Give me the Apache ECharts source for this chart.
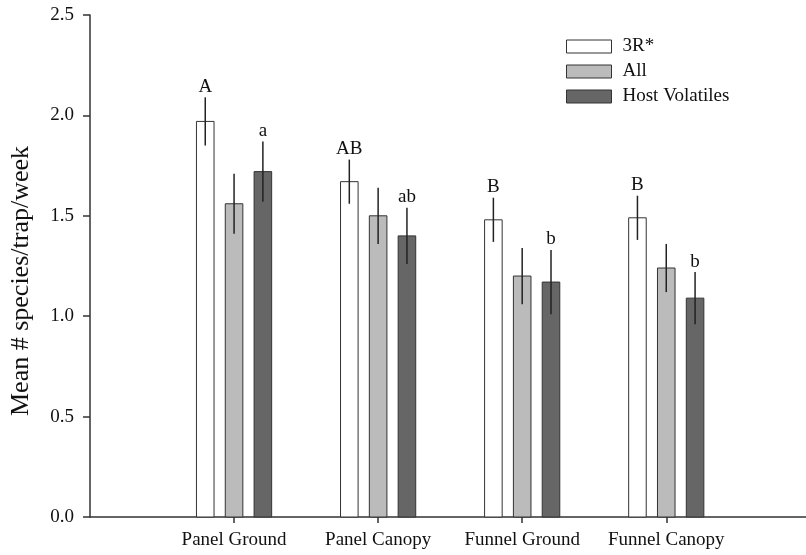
<!DOCTYPE html>
<html>
<head>
<meta charset="utf-8">
<script src="https://cdn.jsdelivr.net/npm/echarts@6/dist/echarts.min.js"></script>
<style>html,body{margin:0;padding:0;background:#fff}#c{width:806px;height:555px}</style>
</head>
<body>
<div id="c"></div>
<script>
var categories = ['Panel Ground', 'Panel Canopy', 'Funnel Ground', 'Funnel Canopy'];
var seriesNames = ['3R*', 'All', 'Host Volatiles'];
var vals3R = [1.97, 1.67, 1.48, 1.49];
var err3R = [0.12, 0.11, 0.11, 0.11];
var valsAll = [1.56, 1.50, 1.20, 1.24];
var errAll = [0.15, 0.14, 0.14, 0.12];
var valsHost = [1.72, 1.40, 1.17, 1.09];
var errHost = [0.15, 0.14, 0.16, 0.13];
var letters3R = ['A', 'AB', 'B', 'B'];
var lettersAll = ['', '', '', ''];
var lettersHost = ['a', 'ab', 'b', 'b'];
var yTicks = [0, 0.5, 1.0, 1.5, 2.0, 2.5];

var FONT = 'Liberation Serif';
var colors = ['#ffffff', '#bbbbbb', '#666666'];
var offsets = [-0.2, 0, 0.2];
var barW = 0.122;
var groups = [
  {name: seriesNames[0], v: vals3R, e: err3R, l: letters3R},
  {name: seriesNames[1], v: valsAll, e: errAll, l: lettersAll},
  {name: seriesNames[2], v: valsHost, e: errHost, l: lettersHost}
];

var series = [];
groups.forEach(function (g, gi) {
  var data = g.v.map(function (v, i) { return [i + 1 + offsets[gi], v, g.e[i]]; });
  series.push({
    type: 'custom',
    name: g.name,
    itemStyle: {color: colors[gi], borderColor: '#333', borderWidth: 1},
    data: data,
    encode: {x: 0, y: 1},
    renderItem: function (params, api) {
      var x = api.value(0), v = api.value(1), e = api.value(2);
      var lab = g.l[params.dataIndex];
      var top = api.coord([x, v]);
      var base = api.coord([x, 0]);
      var w = api.size([barW, 0])[0];
      var eTop = api.coord([x, v + e]);
      var eBot = api.coord([x, v - e]);
      var children = [
        {type: 'rect', shape: {x: top[0] - w / 2, y: top[1], width: w, height: base[1] - top[1]},
         style: {fill: colors[gi], stroke: '#333', lineWidth: 1}},
        {type: 'line', shape: {x1: top[0], y1: eTop[1], x2: top[0], y2: eBot[1]},
         style: {stroke: '#222', lineWidth: 1.5}}
      ];
      if (lab) {
        children.push({type: 'text', x: top[0], y: eTop[1] - 1,
          style: {text: lab, fill: '#111', font: '19px "' + FONT + '"', align: 'center', verticalAlign: 'bottom'}});
      }
      return {type: 'group', children: children};
    }
  });
});

var chart = echarts.init(document.getElementById('c'), null, {renderer: 'canvas'});
chart.setOption({
  animation: false,
  backgroundColor: '#fff',
  grid: {left: 90, right: 0, top: 15, bottom: 38, containLabel: false, outerBoundsMode: 'none'},
  legend: {
    orient: 'vertical', left: 566, top: 37, padding: 0, icon: 'rect',
    itemWidth: 45, itemHeight: 13, itemGap: 6,
    itemStyle: {borderColor: '#333', borderWidth: 1},
    textStyle: {fontFamily: FONT, fontSize: 19, color: '#111', padding: [0, 0, 0, 6]},
    data: seriesNames.map(function (n, i) { return {name: n, itemStyle: {color: colors[i], borderColor: '#333', borderWidth: 1}}; })
  },
  xAxis: {
    type: 'value', min: 0, max: 4.97, interval: 1,
    splitLine: {show: false},
    axisLine: {show: true, lineStyle: {color: '#333', width: 1.5}},
    axisTick: {show: true, customValues: [1, 2, 3, 4], length: 6, inside: false, lineStyle: {color: '#333', width: 1.5}},
    axisLabel: {
      customValues: [1, 2, 3, 4], margin: 14,
      fontFamily: FONT, fontSize: 19, color: '#111',
      formatter: function (v) { return categories[Math.round(v) - 1] || ''; }
    }
  },
  yAxis: {
    type: 'value', min: 0, max: 2.5, interval: 0.5,
    name: 'Mean # species/trap/week', nameLocation: 'middle', nameGap: 56,
    nameTextStyle: {fontFamily: FONT, fontSize: 26, color: '#111', padding: [0, 30, 0, 0]},
    splitLine: {show: false},
    axisLine: {show: true, lineStyle: {color: '#333', width: 1.5}},
    axisTick: {show: true, length: 7, inside: false, lineStyle: {color: '#333', width: 1.5}},
    axisLabel: {
      customValues: yTicks, margin: 16,
      fontFamily: FONT, fontSize: 19, color: '#111',
      formatter: function (v) { return v.toFixed(1); }
    }
  },
  series: series
});
</script>
</body>
</html>
